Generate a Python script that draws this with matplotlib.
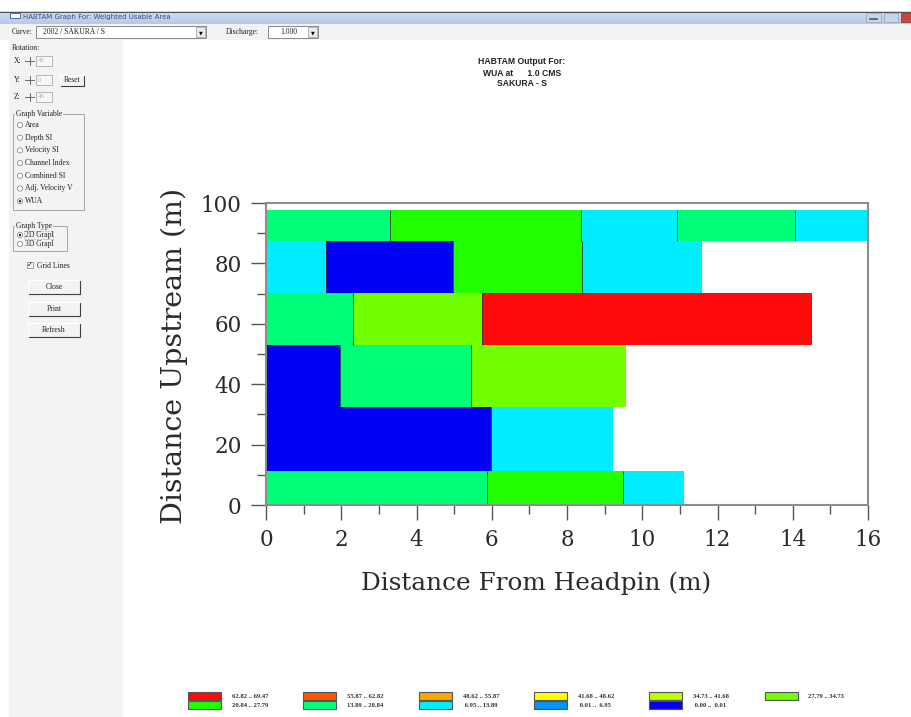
import matplotlib
matplotlib.use("Agg")
import matplotlib.pyplot as plt
import numpy as np
from matplotlib.patches import Rectangle, Circle
from matplotlib.ticker import MultipleLocator

# WUA class limits and colours (low to high)
wua_bins = [0.00, 0.01, 6.95, 13.89, 20.84, 27.79, 34.73, 41.68, 48.62, 55.87, 62.82, 69.47]
class_colors = ['#0000F2', '#0095FF', '#00EEFF', '#00FF78', '#22FF00', '#72FF00',
                '#BBFF00', '#FFFF00', '#FFA500', '#FF5500', '#FF0A0A']

# transect rows: upstream limits, cell edges across the channel, WUA class of each cell
row_edges = [0.0, 11.2, 32.5, 53.0, 70.1, 87.3, 97.8]
row_breaks = [
    [0.0, 5.87, 9.50, 11.12],
    [0.0, 5.98, 9.21],
    [0.0, 1.97, 5.45, 9.57],
    [0.0, 2.32, 5.75, 14.52],
    [0.0, 1.60, 4.96, 8.39, 11.58],
    [0.0, 3.30, 8.36, 10.93, 14.07, 16.0],
]
row_class = [
    [3, 4, 2],
    [0, 2],
    [0, 3, 5],
    [3, 5, 10],
    [2, 0, 4, 2],
    [3, 4, 2, 3, 2],
]

graph_vars = ['Area', 'Depth SI', 'Velocity SI', 'Channel Index', 'Combined SI',
              'Adj. Velocity V', 'WUA']
graph_types = ['2D Grapl', '3D Grapl']

W, H = 911, 717
fig = plt.figure(figsize=(W / 100, H / 100), dpi=100)

# window chrome drawn in pixel coordinates
bg = fig.add_axes([0, 0, 1, 1], zorder=0)
bg.set_xlim(0, W)
bg.set_ylim(H, 0)
bg.axis('off')

ui = dict(family='Liberation Serif', fontsize=5.5, color='#222222', va='center')
panel = '#F3F3F3'


def rect(x0, y0, x1, y1, **kw):
    bg.add_patch(Rectangle((x0, y0), x1 - x0, y1 - y0, **kw))


def button(x0, y0, x1, y1, label):
    rect(x0, y0, x1, y1, facecolor=panel, edgecolor='none')
    bg.plot([x0, x1, x1], [y1, y1, y0], color='#404040', lw=0.8)
    bg.plot([x0, x0, x1], [y1, y0, y0], color='#FFFFFF', lw=0.8)
    bg.text((x0 + x1) / 2, (y0 + y1) / 2, label, ha='center', **ui)


# title bar
grad = np.linspace(0, 1, 20).reshape(-1, 1)
bg.imshow(grad, extent=(0, W, 24, 11.5), cmap=matplotlib.colors.LinearSegmentedColormap.from_list(
    'tb', ['#CFE0F3', '#B3CBE8']), aspect='auto', zorder=1)
bg.plot([0, W], [11.5, 11.5], color='#555555', lw=0.8, zorder=2)
rect(10, 12.5, 20, 17.5, facecolor='white', edgecolor='#3355AA', lw=0.6, zorder=2)
bg.text(23, 17.5, 'HABTAM Graph For: Weighted Usable Area', family='DejaVu Sans',
        fontsize=5.0, color='#44448A', va='center', zorder=3)
rect(866, 13, 881, 22, facecolor='#C8D6E6', edgecolor='#8FA3BC', lw=0.5, zorder=2)
rect(884, 13, 898, 22, facecolor='#C8D6E6', edgecolor='#8FA3BC', lw=0.5, zorder=2)
rect(901, 13, 912, 22, facecolor='#C9463D', edgecolor='#8A2A22', lw=0.5, zorder=2)
bg.plot([870, 877], [18.5, 18.5], color='#555555', lw=1.2, zorder=3)

# toolbar row
rect(0, 24, W, 40, facecolor=panel, edgecolor='none')
bg.text(12, 32, 'Curve:', **ui)
rect(36, 26, 206, 38, facecolor='white', edgecolor='#7A7A7A', lw=0.6)
bg.text(43, 32, '2002 / SAKURA / S', **ui)
rect(196, 27, 205, 37, facecolor='#ECECEC', edgecolor='#999999', lw=0.5)
bg.text(200.5, 32.5, '\u25BC', ha='center', va='center', fontsize=3.5, family='DejaVu Sans')
bg.text(226, 32, 'Discharge:', **ui)
rect(268, 26, 318, 38, facecolor='white', edgecolor='#7A7A7A', lw=0.6)
bg.text(280, 32, '1.000', **ui)
rect(308, 27, 317, 37, facecolor='#ECECEC', edgecolor='#999999', lw=0.5)
bg.text(312.5, 32.5, '\u25BC', ha='center', va='center', fontsize=3.5, family='DejaVu Sans')

# left control panel
rect(9, 40, 123, H, facecolor=panel, edgecolor='none')
bg.text(12, 48, 'Rotation:', **ui)
for lab, yy, val in [('X:', 61, '45'), ('Y:', 80, '0'), ('Z:', 97, '45')]:
    bg.text(14, yy, lab, **ui)
    bg.plot([25, 34], [yy, yy], color='#555555', lw=0.6)
    bg.plot([29.5, 29.5], [yy - 4, yy + 4], color='#555555', lw=0.6)
    rect(36, yy - 5, 52, yy + 5, facecolor='#F7F7F7', edgecolor='#9A9A9A', lw=0.5)
    bg.text(38, yy, val, family='Liberation Serif', fontsize=5, color='#B0B0B0', va='center')
button(60, 75, 84, 86, 'Reset')

grp_box = dict(facecolor=panel, edgecolor='none', pad=0.4)

# graph variable group
rect(13, 114, 84, 210, facecolor='none', edgecolor='#9A9A9A', lw=0.6)
bg.text(16, 114, 'Graph Variable', bbox=grp_box, **ui)
for i, name in enumerate(graph_vars):
    yy = 125 + i * 12.7
    bg.add_patch(Circle((20, yy), 2.6, facecolor='white', edgecolor='#777777', lw=0.5))
    if name == 'WUA':
        bg.add_patch(Circle((20, yy), 1.2, facecolor='#222222', edgecolor='none'))
    bg.text(25, yy, name, **ui)

# graph type group
rect(13, 226, 67, 251, facecolor='none', edgecolor='#9A9A9A', lw=0.6)
bg.text(16, 226, 'Graph Type', bbox=grp_box, **ui)
for i, name in enumerate(graph_types):
    yy = 235 + i * 9
    bg.add_patch(Circle((20, yy), 2.6, facecolor='white', edgecolor='#777777', lw=0.5))
    if i == 0:
        bg.add_patch(Circle((20, yy), 1.2, facecolor='#222222', edgecolor='none'))
        rect(24, yy - 4, 53, yy + 4, facecolor='none', edgecolor='#555555', lw=0.4, ls=':')
    bg.text(25, yy, name, **ui)

rect(27, 262, 33, 268, facecolor='white', edgecolor='#777777', lw=0.5)
bg.text(30, 265, '\u2713', ha='center', va='center', fontsize=5, family='DejaVu Sans')
bg.text(37, 266, 'Grid Lines', **ui)
button(28, 280, 80, 294, 'Close')
button(28, 302, 80, 316, 'Print')
button(28, 323, 80, 337, 'Refresh')

# chart title
tfont = dict(family='Liberation Sans', fontsize=6.2, fontweight='bold', color='#222222',
             ha='center', va='center')
bg.text(522, 62, 'HABTAM Output For:', **tfont)
bg.text(522, 73, 'WUA at      1.0 CMS', **tfont)
bg.text(522, 84, 'SAKURA - S', **tfont)

# colour legend: high classes on top, low classes underneath
lfont = dict(family='Liberation Serif', fontsize=4.8, fontweight='bold', color='#333333',
             va='center')
for col in range(6):
    x0 = 188 + col * 115.3
    for k, yy in [(10 - col, 692), (4 - col, 701)]:
        if k < 0:
            continue
        rect(x0, yy, x0 + 33, yy + 8, facecolor=class_colors[k], edgecolor='#555555', lw=0.8)
        lo, hi = wua_bins[k], wua_bins[k + 1]
        bg.text(x0 + 44, yy + 4.3, f'{lo:5.2f} .. {hi:5.2f}', **lfont)

# WUA map
ax = fig.add_axes([266 / W, 1 - 505 / H, (868 - 266) / W, (505 - 203) / H], zorder=1)
ax.patch.set_visible(False)
for r, (breaks, classes) in enumerate(zip(row_breaks, row_class)):
    y0, y1 = row_edges[r], row_edges[r + 1]
    lefts = breaks[:-1]
    widths = np.diff(breaks)
    ax.barh(y0, widths, left=lefts, height=y1 - y0, align='edge',
            color=[class_colors[c] for c in classes], edgecolor='none')
    ax.vlines(breaks[1:-1], y0, y1, color='#2E2E2E', lw=0.7, alpha=0.8)

ax.set_xlim(0, 16)
ax.set_ylim(0, 100)
ax.xaxis.set_major_locator(MultipleLocator(2))
ax.xaxis.set_minor_locator(MultipleLocator(1))
ax.yaxis.set_major_locator(MultipleLocator(20))
ax.yaxis.set_minor_locator(MultipleLocator(10))
for s in ax.spines.values():
    s.set_color('#8C8C8C')
    s.set_linewidth(1.5)
axfont = 'DejaVu Serif'
ax.tick_params(which='major', direction='out', length=10.5, width=1, color='#555555',
               labelsize=15.5, labelcolor='#2A2A2A', pad=7)
ax.tick_params(which='minor', direction='out', length=6.5, width=1, color='#555555')
for lab in ax.get_xticklabels() + ax.get_yticklabels():
    lab.set_family(axfont)
ax.set_xlabel('Distance From Headpin (m)', family=axfont, fontsize=17.8, color='#2A2A2A')
ax.set_ylabel('Distance Upstream (m)', family=axfont, fontsize=20.5, color='#2A2A2A')
ax.xaxis.set_label_coords(0.449, -0.22)
ax.yaxis.set_label_coords(-0.13, 0.495)

fig.savefig('out.png', dpi=100)
